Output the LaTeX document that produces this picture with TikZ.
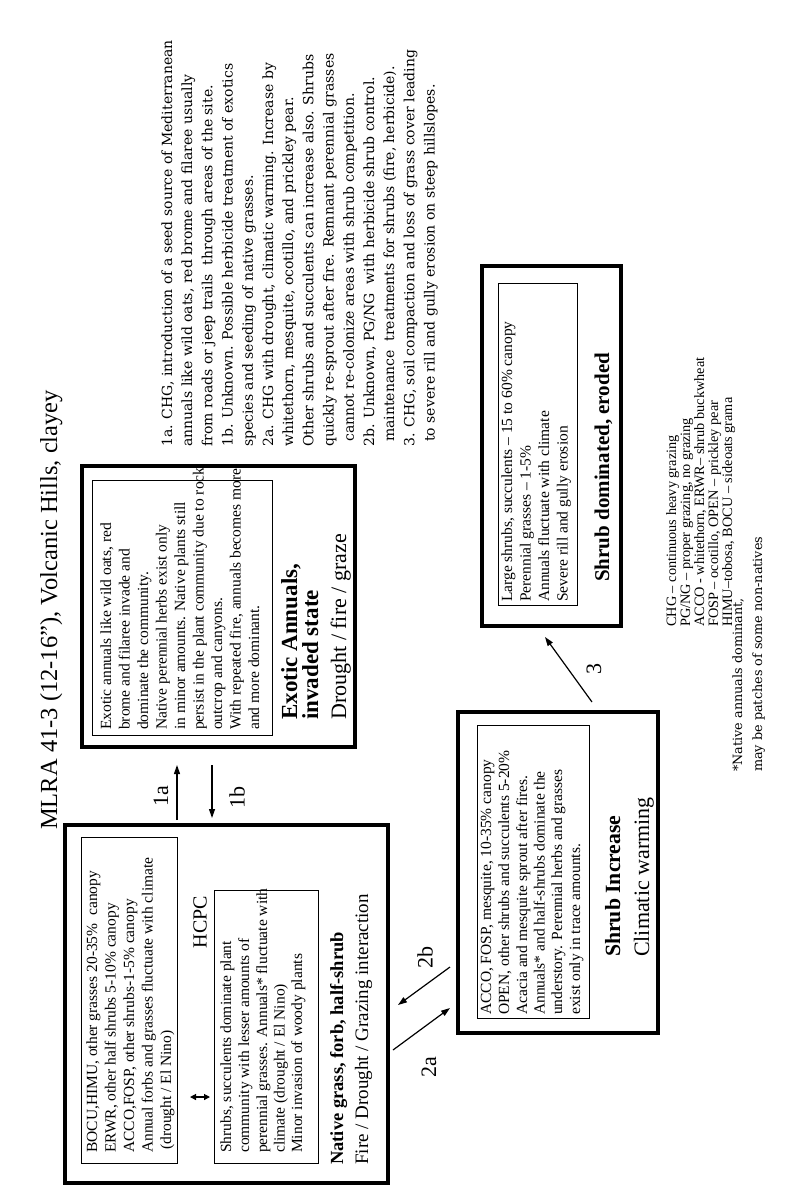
\documentclass[tikz,border=0pt]{standalone}
\usepackage{fontspec}
\setmainfont{Liberation Serif}
\newfontfamily\blockfont{DejaVu Serif}
\usetikzlibrary{arrows.meta}
\begin{document}
\begin{tikzpicture}[x=1pt,y=-1pt,
  obox/.style={draw, line width=3.4pt, inner sep=0pt},
  ibox/.style={draw, line width=0.9pt, inner sep=0pt},
  ln/.style={rotate=90, anchor=base west, inner sep=0pt},
  btxt/.style={ln, font=\fontsize{15.5}{18.5}\selectfont},
  blk/.style={ln, font=\blockfont\fontsize{14}{17}\selectfont},
  leg/.style={ln, font=\fontsize{14.3}{14}\selectfont},
  foot/.style={ln, font=\blockfont\fontsize{12.8}{15}\selectfont},
  stitle/.style={ln, font=\bfseries\fontsize{#1}{#1}\selectfont},
  ssub/.style={ln, font=\fontsize{#1}{#1}\selectfont},
  albl/.style={rotate=90, anchor=center, inner sep=0pt, font=\fontsize{22}{22}\selectfont},
  arr/.style={line width=1.2pt, -{Triangle[length=9pt,width=6pt]}},
  darr/.style={line width=1.2pt, {Triangle[length=6pt,width=6pt]}-{Triangle[length=6pt,width=6pt]}}
]
\fill[white] (0,0) rectangle (800,1194);
\useasboundingbox (0,0) rectangle (800,1194);

% title
\node[ln, font=\fontsize{24.5}{24.5}\selectfont] (title) at (57,830) {MLRA 41-3 (12-16”), Volcanic Hills, clayey};

% ---------- box 1 : HCPC ----------
\node[obox, minimum width=323pt, minimum height=358pt] (b1) at (226.5,1004) {};
\node[ibox, minimum width=96pt, minimum height=326pt] (b1a) at (129,1000) {};
\node[ibox, minimum width=104pt, minimum height=273pt] (b1b) at (266,1026.5) {};
\node[btxt] (a1) at (97,1153) {BOCU,HIMU, other grasses 20-35\%\ \ canopy};
\node[btxt] (a2) at (115.5,1153) {ERWR, other half shrubs 5-10\% canopy};
\node[btxt] (a3) at (134,1153) {ACCO,FOSP, other shrubs-1-5\% canopy};
\node[btxt] (a4) at (152.5,1153) {Annual forbs and grasses fluctuate with climate};
\node[btxt] (a5) at (171,1150) {(drought / El Nino)};
\node[rotate=90, anchor=center, inner sep=0pt, font=\fontsize{20}{20}\selectfont] (hcpc) at (200,922) {HCPC};
\coordinate (dA) at (190,1097);
\coordinate (dB) at (210,1097);
\draw[darr] (dA) -- (dB);
\node[btxt] (c1) at (231,1153) {Shrubs, succulents dominate plant};
\node[btxt] (c2) at (249,1153) {community with lesser amounts of};
\node[btxt] (c3) at (267,1153) {perennial grasses. Annuals* fluctuate with};
\node[btxt] (c4) at (284.5,1153) {climate (drought / El Nino)};
\node[btxt] (c5) at (302,1153) {Minor invasion of woody plants};
\node[stitle=18.5] (n1) at (343,1165) {Native grass, forb, half-shrub};
\node[ssub=19] (n2) at (368,1165) {Fire / Drought / Grazing interaction};

% ---------- box 2 : Exotic annuals ----------
\node[obox, minimum width=273pt, minimum height=281pt] (b2) at (218.5,606.5) {};
\node[ibox, minimum width=180pt, minimum height=255pt] (b2a) at (182,607.5) {};
\node[btxt] (e1) at (111,730) {Exotic annuals like wild oats, red};
\node[btxt] (e2) at (129.5,730) {brome and filaree invade and};
\node[btxt] (e3) at (148,730) {dominate the community.};
\node[btxt] (e4) at (166.5,730) {Native perennial herbs exist only};
\node[btxt] (e5) at (185,730) {in minor amounts. Native plants still};
\node[btxt] (e6) at (203.5,730) {persist in the plant community due to rock};
\node[btxt] (e7) at (222,730) {outcrop and canyons.};
\node[btxt] (e8) at (240.5,730) {With repeated fire, annuals becomes more};
\node[btxt] (e9) at (259,730) {and more dominant.};
\node[stitle=23] (x1) at (297,720) {Exotic Annuals,};
\node[stitle=23] (x2) at (318,720) {invaded state};
\node[ssub=22] (x3) at (346,720) {Drought / fire / graze};

% ---------- box 3 : Shrub increase ----------
\node[obox, minimum width=200pt, minimum height=321pt] (b3) at (558,872.5) {};
\node[ibox, minimum width=112pt, minimum height=293pt] (b3a) at (533,871.5) {};
\node[btxt] (s1) at (491,1015) {ACCO, FOSP, mesquite, 10-35\% canopy};
\node[btxt] (s2) at (509,1015) {OPEN, other shrubs and succulents 5-20\%};
\node[btxt] (s3) at (527,1015) {Acacia and mesquite sprout after fires.};
\node[btxt] (s4) at (544.5,1015) {Annuals* and half-shrubs dominate the};
\node[btxt] (s5) at (562,1015) {understory. Perennial herbs and grasses};
\node[btxt] (s6) at (580,1015) {exist only in trace amounts.};
\node[stitle=21.7] (y1) at (620,957) {Shrub Increase};
\node[ssub=22] (y2) at (649,957) {Climatic warming};

% ---------- box 4 : Shrub dominated ----------
\node[obox, minimum width=139pt, minimum height=360pt] (b4) at (551.5,446) {};
\node[ibox, minimum width=79pt, minimum height=322pt] (b4a) at (537.5,444) {};
\node[btxt] (d1) at (512,602) {Large shrubs, succulents – 15 to 60\% canopy};
\node[btxt] (d2) at (530.5,602) {Perennial grasses – 1-5\%};
\node[btxt] (d3) at (549,602) {Annuals fluctuate with climate};
\node[btxt] (d4) at (567.5,602) {Severe rill and gully erosion};
\node[stitle=21] (z1) at (609,582) {Shrub dominated, eroded};

% ---------- transitions ----------
\coordinate (t1a) at (177,820); \coordinate (h1a) at (177,765);
\draw[arr] (t1a) -- (h1a);
\node[albl] (l1a) at (161,796) {1a};
\coordinate (t1b) at (212,765); \coordinate (h1b) at (212,818);
\draw[arr] (t1b) -- (h1b);
\node[albl] (l1b) at (237,797) {1b};
\coordinate (t2a) at (393,1050); \coordinate (h2a) at (450,1008);
\draw[arr] (t2a) -- (h2a);
\node[albl] (l2a) at (429,1067) {2a};
\coordinate (t2b) at (450,967); \coordinate (h2b) at (398,1005);
\draw[arr] (t2b) -- (h2b);
\node[albl] (l2b) at (425,957) {2b};
\coordinate (t3) at (592,702); \coordinate (h3) at (545,637);
\draw[arr] (t3) -- (h3);
\node[albl] (l3) at (594,669) {3};

% ---------- transition notes ----------
\node[blk] (k1) at (172,447) {1a. CHG, introduction of a seed source of Mediterranean};
\node[blk] (k2) at (192.2,447) {annuals like wild oats, red brome and filaree usually};
\node[blk] (k3) at (212.4,447) {from roads or jeep trails\ \ through areas of the site.};
\node[blk] (k4) at (232.6,447) {1b. Unknown. Possible herbicide treatment of exotics};
\node[blk] (k5) at (252.8,447) {species and seeding of native grasses.};
\node[blk] (k6) at (273,447) {2a. CHG with drought, climatic warming. Increase by};
\node[blk] (k7) at (293.2,447) {whitethorn, mesquite, ocotillo, and prickley pear.};
\node[blk] (k8) at (313.4,447) {Other shrubs and succulents can increase also. Shrubs};
\node[blk] (k9) at (333.6,447) {quickly re-sprout after fire. Remnant perennial grasses};
\node[blk] (k10) at (353.8,442) {cannot re-colonize areas with shrub competition.};
\node[blk] (k11) at (374,447) {2b. Unknown, PG/NG\ \ with herbicide shrub control.};
\node[blk] (k12) at (394.2,442) {maintenance\ \ treatments for shrubs (fire, herbicide).};
\node[blk] (k13) at (414.4,447) {3. CHG, soil compaction and loss of grass cover leading};
\node[blk] (k14) at (434.6,442) {to severe rill and gully erosion on steep hillslopes.};

% ---------- legend ----------
\node[leg] (g1) at (676,627) {CHG – continuous heavy grazing};
\node[leg] (g2) at (690,627) {PG/NG – proper grazing, no grazing};
\node[leg] (g3) at (704,627) {ACCO - whitethorn, ERWR– shrub buckwheat};
\node[leg] (g4) at (718,627) {FOSP – ocotillo, OPEN – prickley pear};
\node[leg] (g5) at (732,627) {HIMU–tobosa, BOCU – sideoats grama};

% ---------- footnote ----------
\node[foot] (f1) at (742,772) {*Native annuals dominant,};
\node[foot] (f2) at (762,772) {may be patches of some non-natives};
\end{tikzpicture}
\end{document}
